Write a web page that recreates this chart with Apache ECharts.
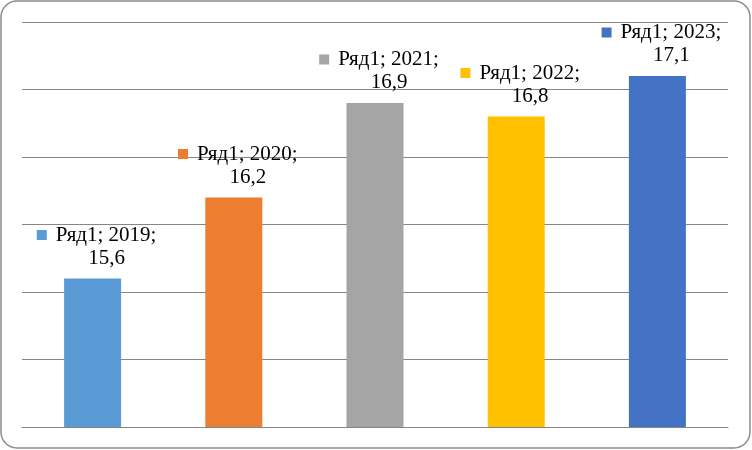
<!DOCTYPE html>
<html><head><meta charset="utf-8">
<script src="https://cdn.jsdelivr.net/npm/echarts@6/dist/echarts.min.js"></script>
<style>html,body{margin:0;padding:0;background:#fff}#c{width:752px;height:450px}</style>
</head><body><div id="c"></div>
<script>
const seriesName = 'Ряд1';
const categories = ['2019', '2020', '2021', '2022', '2023'];
const values = [15.6, 16.2, 16.9, 16.8, 17.1];
const colors = ['#5B9BD5', '#ED7D31', '#A5A5A5', '#FFC000', '#4472C4'];
const yMin = 14.5, yMax = 17.5, yStep = 0.5;

const chart = echarts.init(document.getElementById('c'), null, {renderer: 'canvas'});
const fmt = v => String(v).replace('.', ',');
const data = values.map((v, i) => ({
  value: v,
  itemStyle: {color: colors[i]},
  label: {
    formatter: '{m|}{t|' + seriesName + '; ' + categories[i] + ';}\n{v|' + fmt(v) + '}',
    rich: {
      m: {backgroundColor: colors[i], width: 10, height: 10, padding: 0},
      t: {fontFamily: 'Liberation Serif', fontSize: 21, color: '#000', padding: [0, 0, 0, 9], lineHeight: 23},
      v: {fontFamily: 'Liberation Serif', fontSize: 21, color: '#000', padding: [0, 0, 0, 20], lineHeight: 23}
    }
  }
}));

chart.setOption({
  animation: false,
  graphic: [{
    type: 'rect', shape: {x: 1, y: 1, width: 749, height: 447, r: 16},
    style: {fill: 'none', stroke: '#8c8c8c', lineWidth: 1.5}, silent: true, z: -1
  }],
  grid: {left: 22, right: 24, top: 22, bottom: 23},
  xAxis: {
    type: 'category', data: categories,
    axisLine: {show: true, lineStyle: {color: '#868686', width: 1}},
    axisTick: {show: false}, axisLabel: {show: false}
  },
  yAxis: {
    type: 'value', min: yMin, max: yMax, interval: yStep,
    axisLine: {show: false}, axisTick: {show: false}, axisLabel: {show: false},
    splitLine: {lineStyle: {color: '#868686', width: 1}}
  },
  series: [{
    name: seriesName, type: 'bar', barWidth: 57, data: data,
    label: {show: true, position: 'top', distance: 9, offset: [4, 0], align: 'center'}
  }]
});
</script></body></html>
